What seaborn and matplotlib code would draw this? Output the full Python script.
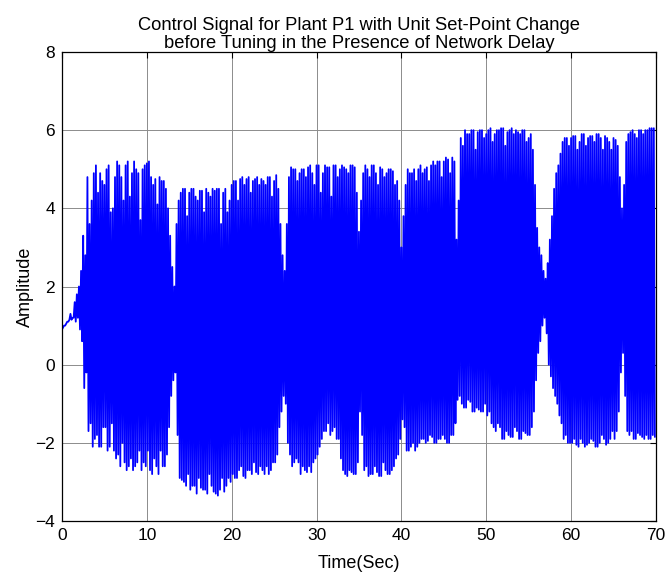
import numpy as np
import pandas as pd
import matplotlib
matplotlib.use("Agg")
import matplotlib.pyplot as plt
import seaborn as sns

# Upper swing values, one every 0.25 s starting at t = 0.0
peak_hi = [
    0.9, 1.0, 1.05, 1.1, 1.3, 1.2, 1.6, 1.8, 2.0, 2.4, 3.3, 2.8, 4.8, 3.6, 4.2, 4.9, 5.1, 4.4, 4.9, 4.7,
    4.6, 5.0, 5.1, 3.9, 4.0, 4.8, 5.2, 5.1, 4.8, 4.2, 5.1, 5.2, 4.3, 4.9, 5.2, 5.0, 4.9, 3.7, 5.0, 5.1,
    5.15, 5.2, 4.8, 4.6, 4.75, 4.1, 4.8, 4.7, 4.7, 4.5, 4.0, 3.3, 2.5, 2.0, 3.6, 4.2, 4.4, 4.5, 4.5, 3.8,
    4.4, 4.5, 4.5, 4.3, 4.2, 4.45, 4.45, 3.9, 4.5, 4.4, 4.3, 4.5, 4.45, 4.5, 4.5, 3.6, 4.4, 4.5, 3.9, 4.2,
    4.6, 4.7, 4.7, 4.2, 4.75, 4.8, 4.6, 4.75, 4.8, 4.4, 4.7, 4.75, 4.8, 4.6, 4.75, 4.7, 4.6, 4.8, 4.8, 4.3,
    4.7, 4.85, 4.5, 3.6, 2.8, 2.4, 3.6, 4.8, 5.05, 5.0, 5.0, 4.7, 4.9, 5.0, 5.0, 4.8, 5.05, 5.1, 4.9, 4.6,
    5.1, 5.1, 4.4, 4.9, 5.1, 5.05, 5.05, 4.3, 5.1, 5.1, 4.8, 5.0, 5.1, 5.05, 5.0, 4.9, 5.1, 5.1, 5.05, 4.4,
    3.4, 4.2, 4.9, 5.1, 5.0, 4.8, 5.1, 5.1, 4.9, 4.6, 5.05, 5.0, 4.8, 4.9, 5.0, 5.0, 4.95, 4.6, 4.7, 4.2,
    3.0, 3.8, 4.6, 5.0, 4.9, 4.9, 5.0, 4.7, 5.0, 5.1, 4.9, 5.0, 5.05, 4.7, 5.1, 5.2, 5.1, 5.2, 5.2, 4.8,
    5.2, 5.3, 5.25, 4.9, 5.3, 5.2, 3.2, 4.2, 5.8, 5.6, 6.0, 5.9, 5.9, 6.0, 6.0, 5.5, 5.95, 6.0, 6.0, 5.8,
    5.9, 6.0, 6.05, 5.7, 5.9, 6.0, 6.0, 6.05, 6.05, 5.6, 5.95, 6.0, 6.05, 5.9, 6.0, 5.95, 5.9, 6.0, 6.0, 5.7,
    5.8, 5.9, 5.5, 4.6, 3.5, 3.0, 2.8, 2.4, 2.2, 2.6, 3.2, 3.8, 4.5, 4.9, 5.1, 5.4, 5.7, 5.8, 5.8, 5.6,
    5.8, 5.85, 5.85, 5.5, 5.7, 5.9, 5.9, 5.6, 5.8, 5.85, 5.85, 5.7, 5.9, 5.9, 5.8, 5.5, 5.85, 5.8, 5.7, 5.5,
    5.8, 5.75, 5.6, 4.8, 4.0, 4.6, 5.7, 5.9, 5.95, 6.0, 5.9, 5.8, 6.0, 6.0, 5.9, 6.0, 6.0, 6.05, 6.05, 6.05,
]
# Lower swing values, one every 0.25 s starting at t = 0.125
peak_lo = [
    0.95, 1.0, 1.1, 1.15, 1.15, 1.2, 1.1, 1.2, 0.9, 0.6, -0.6, -0.2, -1.7, -1.5, -2.1, -1.9, -1.8, -2.1, -2.1, -1.6,
    -1.6, -2.2, -2.1, -1.5, -2.2, -2.4, -2.3, -2.6, -2.0, -2.5, -2.7, -2.6, -2.4, -2.7, -2.6, -2.5, -2.2, -2.7, -2.5, -2.6,
    -2.2, -2.7, -2.8, -2.4, -2.6, -2.8, -2.2, -2.6, -2.6, -2.3, -1.6, -0.8, -0.4, -0.2, -1.8, -2.9, -2.95, -3.0, -3.1, -2.8,
    -3.2, -3.1, -3.1, -3.3, -2.9, -3.15, -3.2, -3.2, -3.3, -2.8, -3.1, -3.25, -3.3, -3.35, -3.2, -2.9, -3.25, -3.1, -2.9, -3.0,
    -2.8, -2.9, -2.9, -2.7, -2.6, -2.85, -2.9, -2.7, -2.7, -2.8, -2.5, -2.75, -2.8, -2.6, -2.7, -2.8, -2.6, -2.8, -2.7, -2.5,
    -2.5, -2.3, -1.6, -1.2, -0.8, -1.0, -2.0, -2.3, -2.6, -2.5, -2.4, -2.5, -2.8, -2.6, -2.7, -2.75, -2.6, -2.75, -2.5, -2.4,
    -2.3, -2.1, -1.9, -1.7, -1.7, -1.5, -1.8, -1.7, -1.6, -1.9, -1.9, -2.4, -2.7, -2.8, -2.85, -2.7, -2.75, -2.8, -2.8, -2.5,
    -1.2, -1.8, -2.7, -2.6, -2.85, -2.8, -2.8, -2.6, -2.75, -2.85, -2.85, -2.5, -2.7, -2.8, -2.8, -2.7, -2.6, -2.4, -2.3, -1.9,
    -1.4, -1.6, -2.2, -2.2, -2.1, -2.0, -2.2, -2.1, -2.0, -1.9, -1.9, -2.0, -1.95, -1.8, -1.85, -2.0, -2.0, -1.9, -1.9, -1.8,
    -1.9, -2.0, -2.0, -1.8, -1.8, -1.5, -0.9, -0.8, -1.0, -1.1, -1.1, -0.9, -0.95, -1.2, -1.2, -1.1, -1.15, -1.2, -1.2, -1.0,
    -1.3, -1.2, -1.5, -1.6, -1.7, -1.5, -1.6, -1.9, -1.9, -1.7, -1.8, -1.85, -1.85, -1.6, -1.7, -1.9, -1.9, -1.7, -1.75, -1.8,
    -1.8, -1.6, -1.2, -0.4, 0.3, 0.6, 1.0, 1.2, 0.8, 0.0, -0.3, -0.6, -0.8, -1.0, -1.3, -1.5, -1.9, -1.8, -2.0, -2.0,
    -2.0, -1.9, -2.05, -2.1, -1.9, -2.0, -2.1, -2.05, -2.0, -1.9, -1.95, -2.1, -2.1, -2.0, -1.8, -1.9, -2.05, -2.0, -1.9, -1.7,
    -1.9, -1.7, -1.2, -0.2, 0.3, -0.8, -1.7, -1.8, -1.7, -1.9, -1.9, -1.75, -1.8, -1.85, -1.9, -1.8, -1.9, -1.9, -1.8, -1.85,
]
step = 0.25
x_ticks = [0, 10, 20, 30, 40, 50, 60, 70]
y_ticks = [-4, -2, 0, 2, 4, 6, 8]
title = "Control Signal for Plant P1 with Unit Set-Point Change\nbefore Tuning in the Presence of Network Delay"

t_hi = np.arange(len(peak_hi)) * step
t_lo = np.arange(len(peak_lo)) * step + step / 2
df = pd.DataFrame({
    "t": np.concatenate([t_hi, t_lo]),
    "u": np.concatenate([peak_hi, peak_lo]),
}).sort_values("t").reset_index(drop=True)

sns.set_theme(style="white")
plt.rcParams["font.family"] = ["Liberation Sans", "DejaVu Sans"]

fig = plt.figure(figsize=(6.7, 5.76), dpi=100)
ax = fig.add_axes([0.0925, 0.0955, 0.8865, 0.8142])
sns.lineplot(data=df, x="t", y="u", ax=ax, color="#0000ff", linewidth=1.3,
             estimator=None, sort=False)

ax.set_xlim(0, 70)
ax.set_ylim(-4, 8)
ax.set_xticks(x_ticks)
ax.set_yticks(y_ticks)
ax.grid(True, color="#8c8c8c", linewidth=0.7)
ax.set_axisbelow(True)
for s in ax.spines.values():
    s.set_color("black")
    s.set_linewidth(0.9)
ax.tick_params(direction="in", length=4, width=0.8, top=True, right=True,
               labelsize=12.5, colors="black", pad=5)
ax.set_xlabel("Time(Sec)", fontsize=13, color="black", labelpad=9)
ax.set_ylabel("Amplitude", fontsize=13, color="black", labelpad=1)
ax.set_title(title, fontsize=13.2, color="black", pad=3, linespacing=1.05)

fig.savefig("out.png", dpi=100)
